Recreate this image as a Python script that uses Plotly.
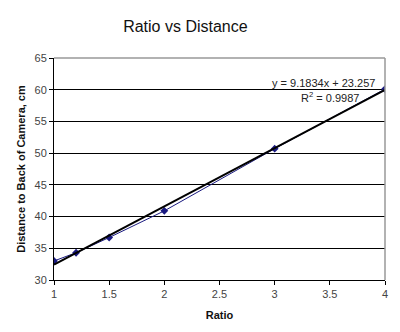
import plotly.graph_objects as go

ratio = [1, 1.2, 1.5, 2, 3, 4]
distance = [33.0, 34.3, 36.7, 40.9, 50.7, 60.1]
slope = 9.1834
intercept = 23.257
r2 = 0.9987
trend_x = [1, 4]
trend_y = [slope * x + intercept for x in trend_x]

fig = go.Figure()
fig.add_trace(go.Scatter(x=ratio, y=distance, mode="lines+markers",
                         line=dict(color="#1a1a80", width=1),
                         marker=dict(symbol="diamond", size=6, color="#1a1a80"),
                         showlegend=False))
fig.add_trace(go.Scatter(x=trend_x, y=trend_y, mode="lines",
                         line=dict(color="black", width=2), showlegend=False))

fig.add_annotation(x=3.93, y=61.1, xref="x", yref="y", xanchor="right",
                   text=f"y = {slope}x + {intercept}", showarrow=False,
                   font=dict(family="Arial", size=11, color="#222"))
fig.add_annotation(x=3.78, y=58.9, xref="x", yref="y", xanchor="right",
                   text=f"R<sup>2</sup> = {r2}", showarrow=False,
                   font=dict(family="Arial", size=11, color="#222"))

fig.update_layout(
    width=400, height=332,
    margin=dict(l=54, r=15, t=58, b=50),
    paper_bgcolor="white", plot_bgcolor="white",
    title=dict(text="Ratio vs Distance", xref="paper", x=0.397, xanchor="center",
               yref="container", y=1 - 26 / 332, yanchor="middle",
               font=dict(family="Arial", size=16, color="#111")),
    font=dict(family="Arial"),
    shapes=[
        dict(type="line", xref="paper", yref="paper", x0=0, x1=1, y0=1, y1=1,
             line=dict(color="#999", width=1.5)),
        dict(type="line", xref="paper", yref="paper", x0=1, x1=1, y0=0, y1=1,
             line=dict(color="#999", width=1.5)),
    ],
)
fig.update_xaxes(range=[1, 4], dtick=0.5, showgrid=False, showline=True,
                 linecolor="black", linewidth=1, ticks="outside", ticklen=4,
                 tickcolor="black", zeroline=False,
                 tickfont=dict(family="Arial", size=11, color="#444"),
                 title=dict(text="<b>Ratio</b>", font=dict(family="Arial", size=11, color="#111"), standoff=12))
fig.update_yaxes(range=[30, 65], dtick=5, showgrid=True, gridcolor="black", gridwidth=1,
                 showline=True, linecolor="black", linewidth=1, ticks="outside", ticklen=4,
                 tickcolor="black", zeroline=False,
                 tickfont=dict(family="Arial", size=11, color="#444"),
                 title=dict(text="<b>Distance to Back of Camera, cm</b>",
                            font=dict(family="Arial", size=11, color="#111"), standoff=6))

fig.write_html("out.html")
